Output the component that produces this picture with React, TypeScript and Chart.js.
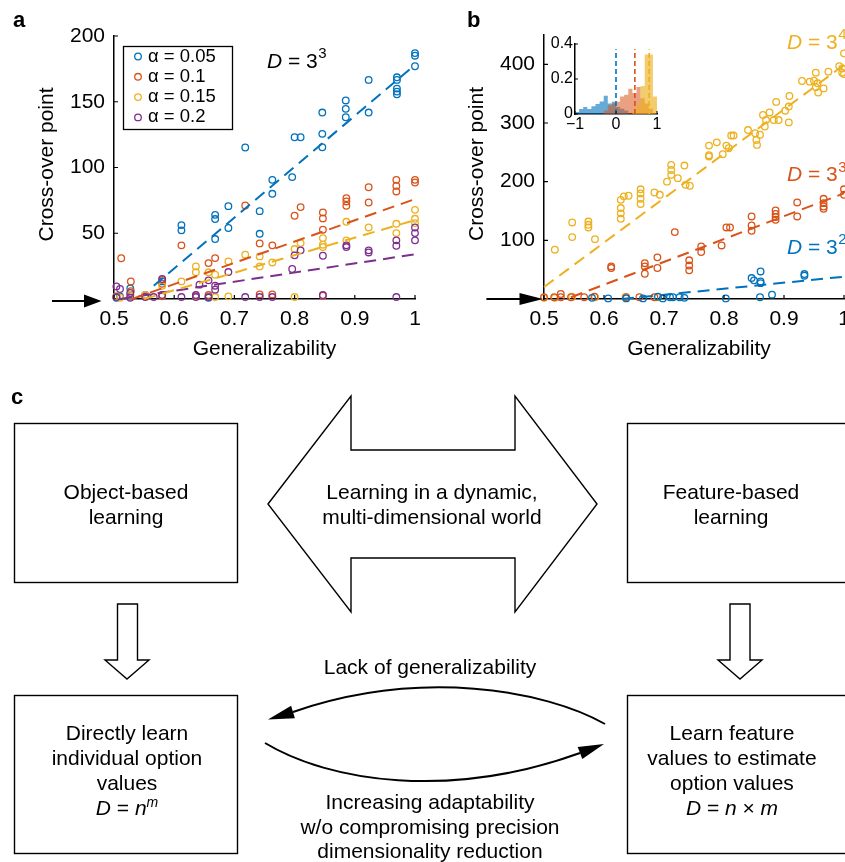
import React, { useEffect, useRef } from 'react';
import { Chart, registerables } from 'chart.js';

Chart.register(...registerables);

const FONT = '"Liberation Sans", Arial, Helvetica, sans-serif';
const BLUE = '#0072BD';
const ORANGE = '#D95319';
const YELLOW = '#EDB120';
const PURPLE = '#7E2F8E';

// ---------------- Panel a data: generalizability vs cross-over point (D = 3^3) ----------------
const alphaLabels = ['α = 0.05', 'α = 0.1', 'α = 0.15', 'α = 0.2'];
const alphaColors = [BLUE, ORANGE, YELLOW, PURPLE];

const crossA005: [number, number][] = [
  [1, 187], [1, 185], [1, 177], [0.97, 168.6], [0.97, 166.6], [0.97, 160], [0.97, 157.7], [0.97, 155.7],
  [0.923, 166.6], [0.923, 141.8], [0.885, 151], [0.885, 144.6], [0.885, 138.2], [0.846, 141.8], [0.846, 125.6],
  [0.846, 115.4], [0.8, 123], [0.81, 123], [0.796, 92.7], [0.763, 90.6], [0.763, 80], [0.742, 66.8], [0.742, 49.6],
  [0.718, 115.2], [0.69, 70.6], [0.69, 54], [0.668, 64], [0.668, 60.8], [0.668, 45.6], [0.612, 56.2], [0.612, 52.2],
  [0.58, 13.4], [0.58, 2.5], [0.527, 8], [0.527, 3], [0.552, 3], [0.657, 1], [0.504, 1], [0.51, 2],
];
const crossA01: [number, number][] = [
  [1, 90.6], [1, 88.6], [0.969, 90.6], [0.969, 86], [0.969, 81.8], [0.923, 85], [0.923, 73.4], [0.886, 76.7],
  [0.886, 74.2], [0.886, 70.9], [0.847, 65.8], [0.847, 61.3], [0.847, 52.7], [0.8, 63.3], [0.81, 69.9], [0.763, 40.8],
  [0.742, 42.3], [0.718, 71.1], [0.668, 31.1], [0.657, 27.3], [0.612, 40.8], [0.58, 11.6], [0.58, 14.5], [0.528, 13.4],
  [0.528, 6], [0.512, 31], [0.847, 2.5], [0.742, 3.5], [0.763, 3.5], [0.636, 2], [0.657, 3], [0.504, 2], [0.552, 2], [0.58, 2],
];
const crossA015: [number, number][] = [
  [1, 67.8], [1, 61], [1, 57.7], [0.969, 57.2], [0.969, 50.1], [0.923, 54.4], [0.886, 58.7], [0.886, 44.6],
  [0.847, 46.3], [0.847, 41.3], [0.847, 39.5], [0.81, 42.5], [0.8, 38], [0.763, 27.8], [0.742, 32.4], [0.742, 24.8],
  [0.718, 33.7], [0.69, 28.6], [0.668, 18.5], [0.657, 20.3], [0.636, 24.8], [0.636, 20.3], [0.612, 13.4], [0.58, 10],
  [0.552, 3], [0.527, 3], [0.504, 2], [0.51, 1], [0.636, 2], [0.668, 1.5], [0.69, 2], [0.8, 1.5], [0.58, 3],
];
const crossA02: [number, number][] = [
  [1, 54.4], [1, 50.1], [1, 44.6], [0.969, 44.6], [0.969, 40.5], [0.923, 37], [0.923, 35.4], [0.886, 40.8],
  [0.886, 39.5], [0.847, 32.9], [0.81, 37], [0.8, 33.2], [0.796, 22.8], [0.69, 20.5], [0.668, 10.1], [0.668, 7.1],
  [0.657, 14.2], [0.642, 10.9], [0.58, 15.2], [0.504, 9.6], [0.51, 7.6], [0.527, 4.6], [0.504, 1.5], [0.552, 1.5],
  [0.566, 1.5], [0.612, 1.5], [0.636, 1.5], [0.657, 1.5], [0.718, 1.5], [0.742, 1.5], [0.763, 1.5], [0.847, 3],
  [0.969, 1.5], [0.527, 1], [0.58, 3], [0.636, 3],
];
const fitA005: [number, number][] = [[0.566, 10], [1, 178]];
const fitA01: [number, number][] = [[0.53, 0], [1, 76]];
const fitA015: [number, number][] = [[0.55, 0], [1, 60]];
const fitA02: [number, number][] = [[0.51, 0], [1, 34]];

// ---------------- Panel b data: three dimensionalities ----------------
const dimNames = [['3', '2'], ['3', '3'], ['3', '4']];
const crossD32: [number, number][] = [
  [0.58, 2], [0.607, 1], [0.637, 1], [0.665, 1], [0.69, 4], [0.698, 1], [0.71, 3], [0.715, 3], [0.726, 3],
  [0.734, 2], [0.803, 1], [0.846, 35.7], [0.85, 31.8], [0.861, 47], [0.861, 30], [0.861, 27], [0.86, 3],
  [0.88, 7.4], [0.934, 42.5], [0.934, 39.7],
];
const crossD33: [number, number][] = [
  [0.612, 55.6], [0.612, 52.8], [0.668, 61], [0.668, 55.6], [0.668, 43], [0.689, 71], [0.689, 52.8], [0.718, 114],
  [0.742, 66], [0.742, 57], [0.742, 48.8], [0.762, 89.6], [0.762, 80], [0.796, 91.3], [0.804, 122], [0.81, 122],
  [0.846, 140.7], [0.846, 125.4], [0.846, 116.3], [0.886, 151], [0.886, 145], [0.886, 139.6], [0.886, 135],
  [0.922, 164.5], [0.922, 140.7], [0.966, 170.8], [0.966, 163.4], [0.966, 157.7], [0.966, 153.8], [1, 187], [1, 177.6],
  [0.5, 3], [0.517, 3], [0.528, 8.5], [0.528, 3], [0.545, 3], [0.567, 3], [0.584, 4], [0.637, 3], [0.659, 3], [0.684, 3],
];
const crossD34: [number, number][] = [
  [0.518, 84], [0.547, 130.5], [0.547, 105.5], [0.574, 132], [0.574, 126.5], [0.574, 122], [0.585, 102],
  [0.628, 169], [0.628, 155], [0.628, 146], [0.628, 136.7], [0.633, 175], [0.641, 176], [0.661, 187], [0.661, 180],
  [0.661, 171], [0.661, 162], [0.684, 181.5], [0.693, 177.6], [0.712, 228.6], [0.712, 220], [0.712, 211.6],
  [0.705, 200], [0.723, 206], [0.734, 227.5], [0.736, 194.6], [0.743, 193], [0.775, 261.5], [0.775, 245],
  [0.775, 243], [0.788, 267], [0.798, 246.8], [0.804, 261.5], [0.808, 257], [0.812, 278.6], [0.816, 278.6],
  [0.84, 288], [0.852, 282.5], [0.854, 271], [0.855, 262.7], [0.86, 280], [0.865, 313.8], [0.868, 294], [0.87, 305],
  [0.876, 318], [0.883, 305], [0.891, 305], [0.887, 336], [0.902, 321], [0.908, 328], [0.909, 346], [0.908, 301],
  [0.93, 371.6], [0.943, 370.5], [0.953, 385.8], [0.95, 372], [0.956, 367.7], [0.953, 361], [0.957, 352],
  [0.966, 359], [0.974, 387.5], [0.992, 397], [0.997, 393], [0.997, 385.8], [1, 418.7], [1, 383.5],
  [0.5, 2], [0.518, 2], [0.547, 4], [0.585, 3], [0.636, 3], [0.689, 3],
];
const fitD32: [number, number][] = [[0.63, 0], [1, 38]];
const fitD33: [number, number][] = [[0.545, 3], [1, 180]];
const fitD34: [number, number][] = [[0.5, 20.4], [1, 399]];

// ---------------- Inset histogram (proportion per bin; bin edges, last value closes the final bin) ----------------
const binEdges = [-1, -0.9, -0.8, -0.7, -0.6, -0.5, -0.4, -0.3, -0.2, -0.1,
  0, 0.1, 0.2, 0.3, 0.4, 0.5, 0.6, 0.7, 0.8, 0.9, 1];
const histD32 = [0.011, 0.029, 0.04, 0.029, 0.044, 0.057, 0.072, 0.105, 0.06, 0.07, 0.04, 0.03, 0.02, 0, 0, 0, 0, 0, 0, 0];
const histD33 = [0, 0, 0, 0, 0, 0, 0, 0.02, 0.05, 0.06, 0.07, 0.1, 0.11, 0.145, 0.12, 0.155, 0.09, 0.06, 0.03, 0];
const histD34 = [0, 0, 0, 0, 0, 0, 0, 0, 0, 0, 0, 0, 0, 0, 0.02, 0.06, 0.16, 0.34, 0.34, 0.1];
const histMeans = [0, 0.46, 0.81];

// ---------------- Panel c texts ----------------
const boxTopLeft = ['Object-based', 'learning'];
const arrowMiddle = ['Learning in a dynamic,', 'multi-dimensional world'];
const boxTopRight = ['Feature-based', 'learning'];
const boxBottomLeft = ['Directly learn', 'individual option', 'values'];
const boxBottomRight = ['Learn feature', 'values to estimate', 'option values'];
const upperCurveText = 'Lack of generalizability';
const lowerCurveText = ['Increasing adaptability', 'w/o compromising precision', 'dimensionality reduction'];

// ---------------- helpers ----------------
const pts = (arr: [number, number][]) => arr.map(([x, y]) => ({ x, y }));

function scatterDs(label: string, arr: [number, number][], color: string, order: number) {
  return {
    label, data: pts(arr), showLine: false,
    borderColor: color, backgroundColor: 'rgba(0,0,0,0)',
    pointBorderColor: color, pointBackgroundColor: 'rgba(0,0,0,0)',
    pointRadius: 3.3, pointHoverRadius: 3.3, pointBorderWidth: 1.3, pointStyle: 'circle',
    clip: false, order,
  };
}
function fitDs(label: string, arr: [number, number][], color: string, dash: number[] = [12, 7], width = 2, order = 0) {
  return {
    label, data: pts(arr), showLine: true, borderColor: color, borderWidth: width, borderDash: dash,
    backgroundColor: 'rgba(0,0,0,0)', pointRadius: 0, pointHoverRadius: 0, fill: false, clip: false, order, tension: 0,
  };
}

function drawD(ctx: CanvasRenderingContext2D, x: number, y: number, base: string, sup: string, color: string) {
  ctx.fillStyle = color;
  ctx.textAlign = 'left';
  ctx.textBaseline = 'middle';
  ctx.font = `italic 21px ${FONT}`;
  ctx.fillText('D', x, y);
  let w = ctx.measureText('D').width;
  ctx.font = `21px ${FONT}`;
  const s = ' = ' + base;
  ctx.fillText(s, x + w, y);
  w += ctx.measureText(s).width;
  ctx.font = `15px ${FONT}`;
  ctx.fillText(sup, x + w + 0.5, y - 8);
}

function decorPlugin(o: any) {
  return {
    id: 'decor',
    afterDraw(chart: any) {
      const { ctx, chartArea: ca } = chart;
      const xs = chart.scales.x;
      const ys = chart.scales.y;
      ctx.save();
      ctx.strokeStyle = '#000';
      ctx.lineWidth = o.tickWidth || 1.2;
      ctx.beginPath();
      xs.ticks.forEach((t: any) => {
        const px = xs.getPixelForValue(t.value);
        ctx.moveTo(px, ca.bottom);
        ctx.lineTo(px, ca.bottom - o.tickLen);
      });
      ys.ticks.forEach((t: any) => {
        if (o.yTickOk && !o.yTickOk(t.value)) return;
        const py = ys.getPixelForValue(t.value);
        ctx.moveTo(ca.left, py);
        ctx.lineTo(ca.left + o.tickLen, py);
      });
      ctx.stroke();
      if (o.arrow) {
        const a = o.arrow;
        const y0 = ys.getPixelForValue(0) + a.dy;
        ctx.strokeStyle = '#000';
        ctx.fillStyle = '#000';
        ctx.lineWidth = 2;
        ctx.beginPath();
        ctx.moveTo(ca.left + a.start, y0);
        ctx.lineTo(ca.left + a.base + 2, y0);
        ctx.stroke();
        ctx.beginPath();
        ctx.moveTo(ca.left + a.tip, y0);
        ctx.lineTo(ca.left + a.base, y0 - a.half);
        ctx.lineTo(ca.left + a.base, y0 + a.half);
        ctx.closePath();
        ctx.fill();
      }
      ctx.fillStyle = '#000';
      if (o.yTitle) {
        ctx.save();
        ctx.translate(ca.left + o.yTitleDX, (ca.top + ca.bottom) / 2 + o.yTitleDY);
        ctx.rotate(-Math.PI / 2);
        ctx.font = `21px ${FONT}`;
        ctx.textAlign = 'center';
        ctx.textBaseline = 'middle';
        ctx.fillText(o.yTitle, 0, 0);
        ctx.restore();
      }
      if (o.xTitle) {
        ctx.font = `21px ${FONT}`;
        ctx.textAlign = 'center';
        ctx.textBaseline = 'middle';
        ctx.fillText(o.xTitle, (ca.left + ca.right) / 2 + o.xTitleDX, ca.bottom + o.xTitleDY);
      }
      if (o.letter) {
        ctx.font = `bold 22px ${FONT}`;
        ctx.textAlign = 'left';
        ctx.textBaseline = 'alphabetic';
        ctx.fillText(o.letter, o.letterX, o.letterY);
      }
      (o.dLabels || []).forEach((l: any) => drawD(ctx, ca.left + l.dx, ca.top + l.dy, l.base, l.sup, l.color));
      if (o.legend) {
        const L = o.legend;
        const bx = ca.left + L.dx;
        const by = ca.top + L.dy;
        ctx.lineWidth = 1.3;
        ctx.strokeStyle = '#000';
        ctx.strokeRect(bx, by, L.w, L.h);
        L.items.forEach((it: any, i: number) => {
          const cy = by + L.firstRow + i * L.rowGap;
          ctx.beginPath();
          ctx.arc(bx + L.markerX, cy, 3.3, 0, 2 * Math.PI);
          ctx.strokeStyle = it.color;
          ctx.lineWidth = 1.3;
          ctx.stroke();
          ctx.fillStyle = '#000';
          ctx.font = `18.5px ${FONT}`;
          ctx.textAlign = 'left';
          ctx.textBaseline = 'middle';
          ctx.fillText(it.label, bx + L.textX, cy);
        });
      }
      ctx.restore();
    },
  };
}

const fmtGen = (v: any) => String(Math.round(Number(v) * 10) / 10);

function axisBase(fontSize: number) {
  return {
    type: 'linear',
    grid: { display: false, drawTicks: false },
    border: { display: true, color: '#000', width: 1.5 },
    ticks: { color: '#000', font: { family: FONT, size: fontSize }, maxRotation: 0, autoSkip: false },
  };
}

function configA(): any {
  const xb = axisBase(21);
  const yb = axisBase(21);
  return {
    type: 'scatter',
    data: {
      datasets: [
        fitDs('fit 0.05', fitA005, BLUE),
        fitDs('fit 0.1', fitA01, ORANGE),
        fitDs('fit 0.15', fitA015, YELLOW),
        fitDs('fit 0.2', fitA02, PURPLE),
        scatterDs(alphaLabels[0], crossA005, BLUE, 4),
        scatterDs(alphaLabels[1], crossA01, ORANGE, 3),
        scatterDs(alphaLabels[2], crossA015, YELLOW, 2),
        scatterDs(alphaLabels[3], crossA02, PURPLE, 1),
      ],
    },
    options: {
      responsive: false, animation: false, devicePixelRatio: 1, events: [],
      layout: { padding: { left: 0, right: 15, top: 36, bottom: 0 } },
      plugins: { legend: { display: false }, tooltip: { enabled: false } },
      scales: {
        x: { ...xb, min: 0.5, max: 1, afterFit: (s: any) => { s.height = 71; },
          ticks: { ...xb.ticks, stepSize: 0.1, padding: 8, callback: fmtGen } },
        y: { ...yb, min: 0, max: 200, afterFit: (s: any) => { s.width = 114; },
          ticks: { ...yb.ticks, stepSize: 50, padding: 9, callback: (v: any) => (v === 0 ? '' : String(v)) } },
      },
    },
    plugins: [decorPlugin({
      tickLen: 4,
      yTickOk: (v: number) => v > 0,
      arrow: { start: -62, base: -30, tip: -12.5, half: 6.5, dy: 2 },
      yTitle: 'Cross-over point', yTitleDX: -67, yTitleDY: -3,
      xTitle: 'Generalizability', xTitleDX: 0, xTitleDY: 50,
      letter: 'a', letterX: 13, letterY: 27,
      dLabels: [{ dx: 153, dy: 26, base: '3', sup: '3', color: '#000' }],
      legend: {
        dx: 9.5, dy: 10.5, w: 109, h: 83, firstRow: 10, rowGap: 20.3, markerX: 14.5, textX: 24.5,
        items: alphaLabels.map((label, i) => ({ label, color: alphaColors[i] })),
      },
    })],
  };
}

function configB(): any {
  const xb = axisBase(21);
  const yb = axisBase(21);
  return {
    type: 'scatter',
    data: {
      datasets: [
        fitDs('fit 3^2', fitD32, BLUE),
        fitDs('fit 3^3', fitD33, ORANGE),
        fitDs('fit 3^4', fitD34, YELLOW),
        scatterDs('D = 3^4', crossD34, YELLOW, 3),
        scatterDs('D = 3^3', crossD33, ORANGE, 2),
        scatterDs('D = 3^2', crossD32, BLUE, 1),
      ],
    },
    options: {
      responsive: false, animation: false, devicePixelRatio: 1, events: [],
      layout: { padding: { left: 0, right: 16, top: 35, bottom: 0 } },
      plugins: { legend: { display: false }, tooltip: { enabled: false } },
      scales: {
        x: { ...xb, min: 0.5, max: 1, afterFit: (s: any) => { s.height = 71; },
          ticks: { ...xb.ticks, stepSize: 0.1, padding: 8, callback: fmtGen } },
        y: { ...yb, min: 0, max: 450, afterFit: (s: any) => { s.width = 114; },
          ticks: { ...yb.ticks, stepSize: 100, padding: 9,
            callback: (v: any) => (v === 0 || v % 100 !== 0 ? '' : String(v)) } },
      },
    },
    plugins: [decorPlugin({
      tickLen: 4,
      yTickOk: (v: number) => v > 0 && v % 100 === 0,
      arrow: { start: -57.6, base: -24.5, tip: -1, half: 6, dy: 0 },
      yTitle: 'Cross-over point', yTitleDX: -67, yTitleDY: -3,
      xTitle: 'Generalizability', xTitleDX: 5, xTitleDY: 50,
      letter: 'b', letterX: 37, letterY: 27,
      dLabels: [
        { dx: 243, dy: 8, base: dimNames[2][0], sup: dimNames[2][1], color: YELLOW },
        { dx: 243, dy: 140.5, base: dimNames[1][0], sup: dimNames[1][1], color: ORANGE },
        { dx: 243, dy: 213, base: dimNames[0][0], sup: dimNames[0][1], color: BLUE },
      ],
    })],
  };
}

function configInset(): any {
  const xb = axisBase(16);
  const yb = axisBase(16);
  const hist = (label: string, vals: number[], color: string, order: number) => ({
    label,
    data: binEdges.map((x, i) => ({ x, y: vals[Math.min(i, vals.length - 1)] })),
    showLine: true, stepped: 'before', fill: 'origin',
    backgroundColor: color, borderColor: 'rgba(0,0,0,0)', borderWidth: 0,
    pointRadius: 0, pointHoverRadius: 0, order,
  });
  const vline = (label: string, m: number, color: string) => ({
    label, data: [{ x: m, y: 0 }, { x: m, y: 0.37 }], showLine: true, borderColor: color, borderWidth: 1.6,
    borderDash: [5, 3], pointRadius: 0, pointHoverRadius: 0, fill: false, clip: false, order: 0,
  });
  return {
    type: 'scatter',
    data: {
      datasets: [
        vline('mean 3^2', histMeans[0], BLUE),
        vline('mean 3^3', histMeans[1], ORANGE),
        vline('mean 3^4', histMeans[2], YELLOW),
        hist('3^4', histD34, 'rgba(237,177,32,0.65)', 1),
        hist('3^3', histD33, 'rgba(217,83,25,0.55)', 2),
        hist('3^2', histD32, 'rgba(0,114,189,0.6)', 3),
      ],
    },
    options: {
      responsive: false, animation: false, devicePixelRatio: 1, events: [],
      layout: { padding: { left: 0, right: 13, top: 14, bottom: 0 } },
      plugins: { legend: { display: false }, tooltip: { enabled: false } },
      scales: {
        x: { ...xb, min: -1, max: 1, afterFit: (s: any) => { s.height = 26; },
          ticks: { ...xb.ticks, stepSize: 1, padding: 1,
            callback: (v: any) => (Number(v) < 0 ? '\u2212' + Math.abs(Number(v)) : String(Number(v))) } },
        y: { ...yb, min: 0, max: 0.4, afterFit: (s: any) => { s.width = 45; },
          ticks: { ...yb.ticks, stepSize: 0.2, padding: 2,
            callback: (v: any) => (Number(v) === 0 ? '0' : Number(v).toFixed(1)) } },
      },
    },
    plugins: [decorPlugin({ tickLen: 3, tickWidth: 1 })],
  };
}

const T = ({ x, y, children, size = 21, weight = 'normal', anchor = 'middle' }: any) => (
  <text x={x} y={y} fontFamily={FONT} fontSize={size} fontWeight={weight} textAnchor={anchor} fill="#000">
    {children}
  </text>
);

function PanelC() {
  const stroke = { stroke: '#000', strokeWidth: 1.4, fill: '#fff' };
  return (
    <svg width={845} height={862} style={{ position: 'absolute', left: 0, top: 0, pointerEvents: 'none' }}>
      <T x={11} y={404} size={22} weight="bold" anchor="start">c</T>
      <rect x={14.5} y={423.5} width={223} height={159} {...stroke} />
      <rect x={627.5} y={423.5} width={240} height={159} {...stroke} />
      <rect x={14.5} y={695.5} width={223} height={158} {...stroke} />
      <rect x={627.5} y={695.5} width={240} height={158} {...stroke} />
      <polygon points="268,504 351,396 351,450 515,450 515,396 597,504 515,612 515,558 351,558 351,612" {...stroke} />
      <polygon points="117.5,604 137.5,604 137.5,660 149,660 127,679 105,660 117.5,660" {...stroke} />
      <polygon points="730,604 750,604 750,660 762,660 740,679 718,660 730,660" {...stroke} />
      <path d="M 605 724 C 545 690, 420 668, 293 712" stroke="#000" strokeWidth={2} fill="none" />
      <polygon points="268,719.5 294.9,718.2 291.1,705.8" fill="#000" />
      <path d="M 265 743 C 330 782, 450 800, 580 753" stroke="#000" strokeWidth={2} fill="none" />
      <polygon points="604,744 582.3,759.1 577.7,746.9" fill="#000" />

      {boxTopLeft.map((s, i) => <T key={'tl' + i} x={126} y={499 + i * 25}>{s}</T>)}
      {arrowMiddle.map((s, i) => <T key={'am' + i} x={432} y={499 + i * 25}>{s}</T>)}
      {boxTopRight.map((s, i) => <T key={'tr' + i} x={731} y={499 + i * 25}>{s}</T>)}
      <T x={430} y={674}>{upperCurveText}</T>
      {boxBottomLeft.map((s, i) => <T key={'bl' + i} x={127} y={740 + i * 25}>{s}</T>)}
      <T x={127} y={815}>
        <tspan fontStyle="italic">D</tspan>{' = '}<tspan fontStyle="italic">n</tspan>
        <tspan fontStyle="italic" fontSize={14} dy={-8}>m</tspan>
      </T>
      {boxBottomRight.map((s, i) => <T key={'br' + i} x={732} y={740 + i * 25}>{s}</T>)}
      <T x={732} y={815}>
        <tspan fontStyle="italic">D</tspan>{' = '}<tspan fontStyle="italic">n</tspan>{' × '}<tspan fontStyle="italic">m</tspan>
      </T>
      {lowerCurveText.map((s, i) => <T key={'lc' + i} x={430} y={809 + i * 24.5}>{s}</T>)}
    </svg>
  );
}

export default function App() {
  const aRef = useRef<HTMLCanvasElement>(null);
  const bRef = useRef<HTMLCanvasElement>(null);
  const iRef = useRef<HTMLCanvasElement>(null);

  useEffect(() => {
    const charts = [
      new Chart(aRef.current as HTMLCanvasElement, configA()),
      new Chart(bRef.current as HTMLCanvasElement, configB()),
      new Chart(iRef.current as HTMLCanvasElement, configInset()),
    ];
    return () => charts.forEach((c) => c.destroy());
  }, []);

  return (
    <div style={{ position: 'fixed', left: 0, top: 0, width: 845, height: 862, overflow: 'hidden', background: '#fff' }}>
      <canvas ref={aRef} width={430} height={370} style={{ position: 'absolute', left: 0, top: 0, width: 430, height: 370 }} />
      <canvas ref={bRef} width={430} height={370} style={{ position: 'absolute', left: 430, top: 0, width: 430, height: 370 }} />
      <canvas ref={iRef} width={140} height={110} style={{ position: 'absolute', left: 530, top: 30, width: 140, height: 110 }} />
      <PanelC />
    </div>
  );
}
